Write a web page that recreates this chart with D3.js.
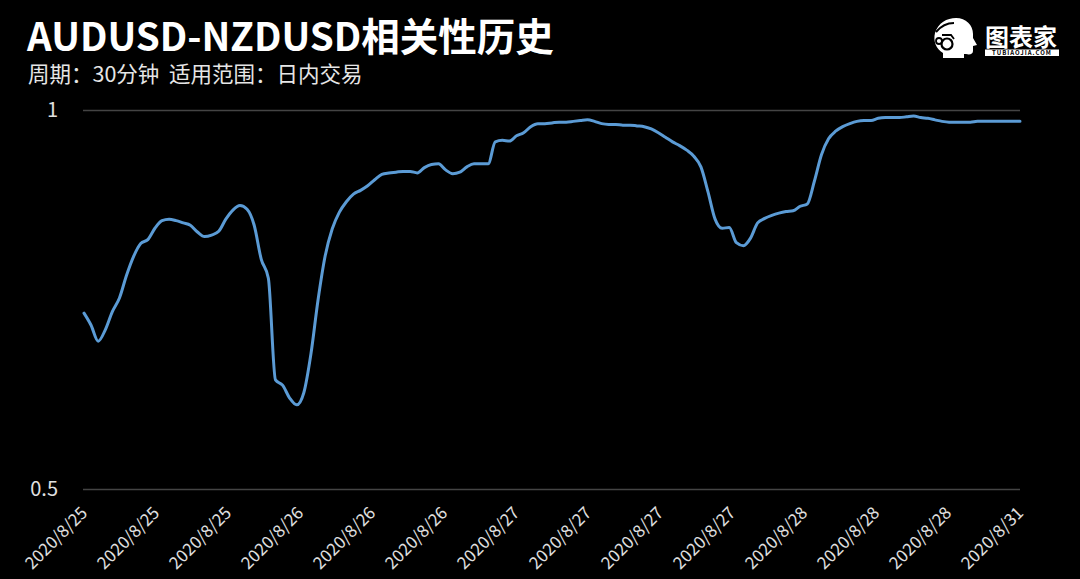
<!DOCTYPE html>
<html><head><meta charset="utf-8">
<script src="https://cdn.jsdelivr.net/npm/d3@7"></script>
<style>html,body{margin:0;padding:0;background:#000;} svg{display:block}</style>
</head><body>
<svg id="chart" width="1080" height="579"></svg>
<script>
const titleText = "AUDUSD-NZDUSD相关性历史";
const subtitleText = "周期：30分钟  适用范围：日内交易";
const xTickLabels = ["2020/8/25","2020/8/25","2020/8/25","2020/8/26","2020/8/26","2020/8/26",
  "2020/8/27","2020/8/27","2020/8/27","2020/8/27","2020/8/28","2020/8/28","2020/8/28","2020/8/31"];
const yTickValues = [0.5, 1];
const correlation = [
  0.732,0.716,0.695,0.710,0.734,0.752,0.782,0.807,0.824,0.829,
  0.844,0.854,0.856,0.854,0.851,0.848,0.839,0.833,0.835,0.840,
  0.856,0.868,0.874,0.869,0.848,0.803,0.778,0.644,0.637,0.620,
  0.611,0.627,0.678,0.749,0.807,0.843,0.865,0.879,0.889,0.894,
  0.900,0.908,0.915,0.917,0.918,0.919,0.919,0.917,0.924,0.928,
  0.929,0.921,0.916,0.918,0.925,0.929,0.929,0.929,0.958,0.960,
  0.959,0.966,0.970,0.978,0.982,0.982,0.983,0.984,0.984,0.985,
  0.986,0.987,0.985,0.982,0.981,0.981,0.980,0.980,0.979,0.978,
  0.975,0.970,0.964,0.958,0.953,0.947,0.939,0.925,0.892,0.856,
  0.844,0.845,0.825,0.821,0.831,0.851,0.857,0.861,0.864,0.866,
  0.867,0.873,0.876,0.906,0.941,0.962,0.972,0.978,0.982,0.985,
  0.986,0.986,0.989,0.990,0.990,0.990,0.991,0.992,0.990,0.989,
  0.987,0.985,0.984,0.984,0.984,0.984,0.985,0.985,0.985,0.985,
  0.985,0.985,0.985
];

const FONT = "'Noto Sans CJK SC','Noto Sans',sans-serif";
const svg = d3.select("#chart");
svg.append("rect").attr("width",1080).attr("height",579).attr("fill","#000");

const plotL = 83, plotR = 1020, plotT = 110, plotB = 489;
const n = correlation.length;
const x = d3.scaleLinear().domain([0, n - 1]).range([plotL + 1, plotR]);
const y = d3.scaleLinear().domain([0.5, 1]).range([plotB, plotT]);

// gridlines + y labels
const yAxis = d3.axisLeft(y).tickValues(yTickValues).tickFormat(d3.format("~g"))
  .tickSize(-(plotR - plotL)).tickPadding(25);
const gy = svg.append("g").attr("transform", `translate(${plotL},0)`).call(yAxis);
gy.select(".domain").remove();
gy.selectAll(".tick line").attr("stroke", "#444").attr("stroke-width", 1.5);
gy.selectAll(".tick text").attr("fill", "#e0e0e0").style("font-family", FONT).style("font-size", "20px");

// x labels
const step = (n - 1) / (xTickLabels.length - 1);
const tickIdx = xTickLabels.map((d, i) => i * step);
const xAxis = d3.axisBottom(x).tickValues(tickIdx).tickSize(0)
  .tickFormat((d, i) => xTickLabels[i]);
const gx = svg.append("g").attr("transform", `translate(0,${plotB})`).call(xAxis);
gx.select(".domain").remove();
gx.selectAll(".tick text")
  .attr("fill", "#e0e0e0").style("font-family", FONT).style("font-size", "17px")
  .attr("text-anchor", "end").attr("dy", null).attr("y", null)
  .attr("transform", "translate(4,25) rotate(-45)");

// line
const line = d3.line().x((d, i) => x(i)).y(d => y(d)).curve(d3.curveMonotoneX);
svg.append("path").datum(correlation).attr("d", line)
  .attr("fill", "none").attr("stroke", "#5b9bd5").attr("stroke-width", 3)
  .attr("stroke-linejoin", "round").attr("stroke-linecap", "round");

// titles
svg.append("text").attr("x", 27).attr("y", 51).text(titleText)
  .attr("fill", "#ffffff").style("font-family", FONT).style("font-size", "38.5px").style("font-weight", "700");
svg.append("text").attr("x", 28).attr("y", 82).text(subtitleText)
  .style("white-space", "pre")
  .attr("fill", "#e6e6e6").style("font-family", FONT).style("font-size", "21.5px");

// logo
const logo = svg.append("g").attr("transform", "translate(933,18)");
logo.append("path")
  .attr("d", "M10 40 L10 35 C3 31 0 23 2 15 C5 5 14 0 23 0 C33 0 40 7 40 16 L40 20 L44 27 L40 28 L40 33 C40 36 37 37 33 36 L31 36 L31 40 Z")
  .attr("fill", "#fff");
logo.append("path").attr("d", "M3 14 C8 8 14 5 21 5").attr("stroke", "#000").attr("stroke-width", 2).attr("fill", "none");
logo.append("circle").attr("cx", 14).attr("cy", 26).attr("r", 5.5).attr("fill", "none").attr("stroke", "#000").attr("stroke-width", 2.2);
logo.append("circle").attr("cx", 6).attr("cy", 23).attr("r", 3).attr("fill", "none").attr("stroke", "#000").attr("stroke-width", 1.8);
logo.append("path").attr("d", "M9 17 L18 17 L21 21").attr("stroke", "#000").attr("stroke-width", 1.8).attr("fill", "none");
logo.append("text").attr("x", 52).attr("y", 27.5).text("图表家")
  .attr("fill", "#fff").style("font-family", FONT).style("font-size", "24px").style("font-weight", "700");
logo.append("rect").attr("x", 52).attr("y", 31.5).attr("width", 74).attr("height", 6.5).attr("fill", "#fff");
logo.append("text").attr("x", 89).attr("y", 37.2).text("TUBIAOJIA.COM").attr("text-anchor", "middle")
  .attr("fill", "#000").style("font-family", FONT).style("font-size", "6px").style("font-weight", "700")
  .style("letter-spacing", "1px");
</script>
</body></html>
